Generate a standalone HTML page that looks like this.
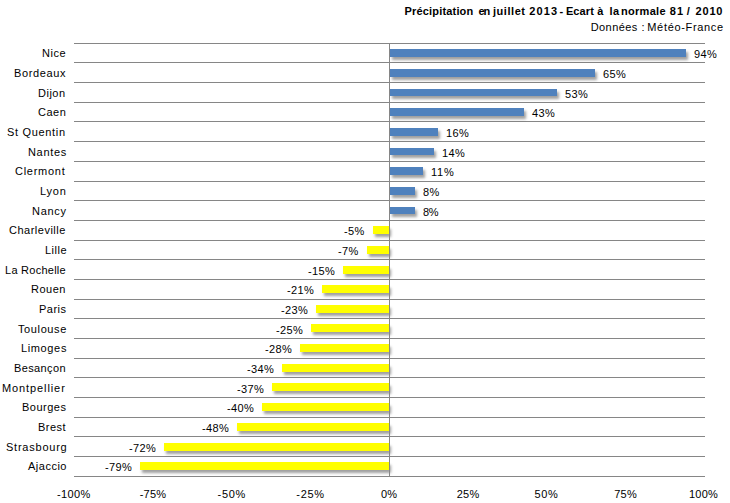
<!DOCTYPE html>
<html><head><meta charset="utf-8"><style>
html,body{margin:0;padding:0;background:#fff;width:730px;height:503px;overflow:hidden;position:relative;font-family:"Liberation Sans", sans-serif;color:#000}
.g{position:absolute;left:74px;width:631px;height:1px;background:#868686}
.ax{position:absolute;width:1px;background:#868686;z-index:3}
.b{position:absolute;height:8px;box-shadow:2px 3px 3px rgba(0,0,0,0.38);z-index:2}
.p{background:#4f81bd}
.n{background:#ffff00}
.tx{position:absolute;font-size:11px;line-height:14px;white-space:nowrap}
.bd{font-weight:bold}
</style></head><body>
<div class="g" style="top:43px"></div><div class="g" style="top:62px"></div><div class="g" style="top:82px"></div><div class="g" style="top:102px"></div><div class="g" style="top:121px"></div><div class="g" style="top:141px"></div><div class="g" style="top:161px"></div><div class="g" style="top:181px"></div><div class="g" style="top:200px"></div><div class="g" style="top:220px"></div><div class="g" style="top:240px"></div><div class="g" style="top:259px"></div><div class="g" style="top:279px"></div><div class="g" style="top:299px"></div><div class="g" style="top:318px"></div><div class="g" style="top:338px"></div><div class="g" style="top:358px"></div><div class="g" style="top:377px"></div><div class="g" style="top:397px"></div><div class="g" style="top:417px"></div><div class="g" style="top:436px"></div><div class="g" style="top:456px"></div><div class="g" style="top:476px"></div><div class="ax" style="left:389px;top:43px;height:434px"></div>
<div class="b p" style="left:390px;top:49px;width:296px;height:8px"></div><div class="b p" style="left:390px;top:69px;width:205px;height:8px"></div><div class="b p" style="left:390px;top:89px;width:167px;height:7px"></div><div class="b p" style="left:390px;top:108px;width:134px;height:8px"></div><div class="b p" style="left:390px;top:128px;width:48px;height:8px"></div><div class="b p" style="left:390px;top:148px;width:44px;height:7px"></div><div class="b p" style="left:390px;top:167px;width:33px;height:8px"></div><div class="b p" style="left:390px;top:187px;width:25px;height:8px"></div><div class="b p" style="left:390px;top:207px;width:25px;height:7px"></div><div class="b n" style="left:373px;top:226px;width:16px;height:8px"></div><div class="b n" style="left:367px;top:246px;width:22px;height:8px"></div><div class="b n" style="left:343px;top:266px;width:46px;height:8px"></div><div class="b n" style="left:322px;top:285px;width:67px;height:8px"></div><div class="b n" style="left:316px;top:305px;width:73px;height:8px"></div><div class="b n" style="left:311px;top:324px;width:78px;height:8px"></div><div class="b n" style="left:300px;top:344px;width:89px;height:8px"></div><div class="b n" style="left:282px;top:364px;width:107px;height:8px"></div><div class="b n" style="left:272px;top:383px;width:117px;height:8px"></div><div class="b n" style="left:262px;top:403px;width:127px;height:8px"></div><div class="b n" style="left:237px;top:423px;width:152px;height:8px"></div><div class="b n" style="left:164px;top:443px;width:225px;height:8px"></div><div class="b n" style="left:140px;top:462px;width:249px;height:8px"></div>
<div class="tx" style="left:694.0px;top:47.0px;letter-spacing:0.4px">94%</div><div class="tx" style="left:42.0px;top:46.0px;letter-spacing:0.5px">Nice</div><div class="tx" style="left:603.0px;top:67.0px;letter-spacing:0.4px">65%</div><div class="tx" style="left:14.0px;top:66.0px;letter-spacing:0.614px">Bordeaux</div><div class="tx" style="left:565.0px;top:87.0px;letter-spacing:0.4px">53%</div><div class="tx" style="left:38.0px;top:86.0px;letter-spacing:0.5px">Dijon</div><div class="tx" style="left:532.0px;top:106.0px;letter-spacing:0.4px">43%</div><div class="tx" style="left:38.0px;top:105.0px;letter-spacing:0.5px">Caen</div><div class="tx" style="left:446.0px;top:126.0px;letter-spacing:0.4px">16%</div><div class="tx" style="left:7.0px;top:125.0px;letter-spacing:0.678px">St Quentin</div><div class="tx" style="left:442.0px;top:146.0px;letter-spacing:0.4px">14%</div><div class="tx" style="left:28.0px;top:145.0px;letter-spacing:0.66px">Nantes</div><div class="tx" style="left:431.0px;top:165.0px;letter-spacing:0.8px">11%</div><div class="tx" style="left:15.0px;top:164.0px;letter-spacing:0.729px">Clermont</div><div class="tx" style="left:423.0px;top:185.0px;letter-spacing:0.4px">8%</div><div class="tx" style="left:40.0px;top:184.0px;letter-spacing:0.767px">Lyon</div><div class="tx" style="left:423.0px;top:205.0px;letter-spacing:-0.4px">8%</div><div class="tx" style="left:32.0px;top:204.0px;letter-spacing:0.7px">Nancy</div><div class="tx" style="left:344.0px;top:224.0px;letter-spacing:0.4px">-5%</div><div class="tx" style="left:9.0px;top:223.0px;letter-spacing:0.5px">Charleville</div><div class="tx" style="left:338.0px;top:244.0px;letter-spacing:0.4px">-7%</div><div class="tx" style="left:45.0px;top:243.0px;letter-spacing:0.5px">Lille</div><div class="tx" style="left:308.0px;top:264.0px;letter-spacing:0.4px">-15%</div><div class="tx" style="left:5.0px;top:263.0px;letter-spacing:0.26px">La Rochelle</div><div class="tx" style="left:287.0px;top:283.0px;letter-spacing:0.4px">-21%</div><div class="tx" style="left:31.0px;top:282.0px;letter-spacing:0.5px">Rouen</div><div class="tx" style="left:281.0px;top:303.0px;letter-spacing:0.4px">-23%</div><div class="tx" style="left:39.0px;top:302.0px;letter-spacing:0.5px">Paris</div><div class="tx" style="left:276.0px;top:323.0px;letter-spacing:0.4px">-25%</div><div class="tx" style="left:18.0px;top:322.0px;letter-spacing:0.614px">Toulouse</div><div class="tx" style="left:265.0px;top:342.0px;letter-spacing:0.4px">-28%</div><div class="tx" style="left:21.0px;top:341.0px;letter-spacing:0.633px">Limoges</div><div class="tx" style="left:247.0px;top:362.0px;letter-spacing:0.4px">-34%</div><div class="tx" style="left:14.0px;top:361.0px;letter-spacing:0.386px">Besançon</div><div class="tx" style="left:237.0px;top:382.0px;letter-spacing:0.4px">-37%</div><div class="tx" style="left:2.0px;top:381.0px;letter-spacing:0.9px">Montpellier</div><div class="tx" style="left:227.0px;top:401.0px;letter-spacing:0.4px">-40%</div><div class="tx" style="left:22.0px;top:400.0px;letter-spacing:0.5px">Bourges</div><div class="tx" style="left:202.0px;top:421.0px;letter-spacing:0.4px">-48%</div><div class="tx" style="left:38.0px;top:420.0px;letter-spacing:0.5px">Brest</div><div class="tx" style="left:129.0px;top:441.0px;letter-spacing:0.4px">-72%</div><div class="tx" style="left:6.0px;top:440.0px;letter-spacing:0.767px">Strasbourg</div><div class="tx" style="left:105.0px;top:460.0px;letter-spacing:0.4px">-79%</div><div class="tx" style="left:28.0px;top:459.0px;letter-spacing:0.5px">Ajaccio</div><div class="tx" style="left:57.0px;top:487.0px;letter-spacing:0.4px">-100%</div><div class="tx" style="left:139.75px;top:487.0px;letter-spacing:0.2px">-75%</div><div class="tx" style="left:217.5px;top:487.0px;letter-spacing:0.734px">-50%</div><div class="tx" style="left:296.25px;top:487.0px;letter-spacing:0.733px">-25%</div><div class="tx" style="left:381.0px;top:487.0px;letter-spacing:0.2px">0%</div><div class="tx" style="left:456.75px;top:487.0px;letter-spacing:0.2px">25%</div><div class="tx" style="left:534.5px;top:487.0px;letter-spacing:0.6px">50%</div><div class="tx" style="left:614.25px;top:487.0px;letter-spacing:0.2px">75%</div><div class="tx" style="left:689.0px;top:487.0px;letter-spacing:0.2px">100%</div><div class="tx bd" style="left:404.6px;top:4.0px;letter-spacing:0.166px">Précipitation</div><div class="tx bd" style="left:478.6px;top:4.0px;letter-spacing:-1.3px">en</div><div class="tx bd" style="left:492.9px;top:4.0px;letter-spacing:0.567px">juillet</div><div class="tx bd" style="left:529.3px;top:4.0px;letter-spacing:1.1px">2013</div><div class="tx bd" style="left:559.4px;top:4.0px;letter-spacing:0px">-</div><div class="tx bd" style="left:565.9px;top:4.0px;letter-spacing:0.1px">Ecart</div><div class="tx bd" style="left:597.2px;top:4.0px;letter-spacing:0px">à</div><div class="tx bd" style="left:609.6px;top:4.0px;letter-spacing:0.3px">la</div><div class="tx bd" style="left:621.0px;top:4.0px;letter-spacing:0.3px">normale</div><div class="tx bd" style="left:669.8px;top:4.0px;letter-spacing:1.1px">81</div><div class="tx bd" style="left:686.7px;top:4.0px;letter-spacing:0px">/</div><div class="tx bd" style="left:695.5px;top:4.0px;letter-spacing:0.834px">2010</div><div class="tx" style="left:590.7px;top:20.0px;letter-spacing:0.433px">Données</div><div class="tx" style="left:641.5px;top:20.0px;letter-spacing:0px">:</div><div class="tx" style="left:647.3px;top:20.0px;letter-spacing:0.664px">Météo-France</div>
</body></html>
